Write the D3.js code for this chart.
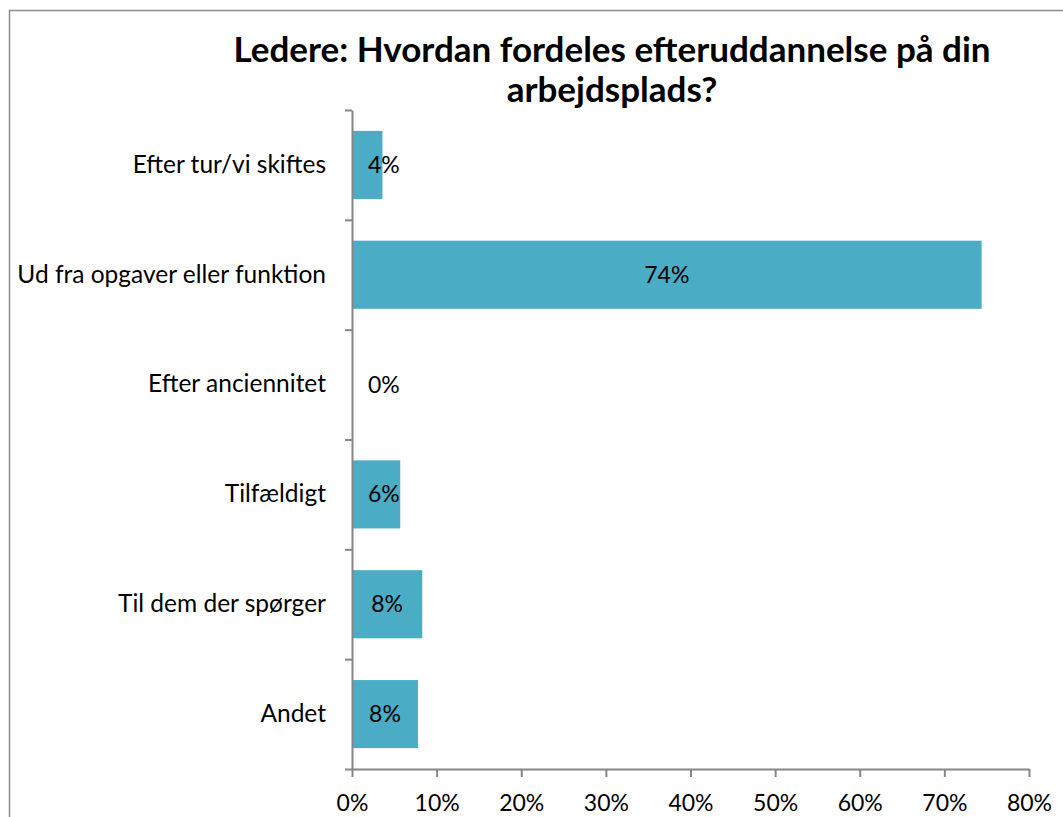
<!DOCTYPE html>
<html>
<head>
<meta charset="utf-8">
<script src="https://cdn.jsdelivr.net/npm/d3@7"></script>
<style>
    body { margin: 0; background: #ffffff; }
    text { font-family: Lato, "Open Sans", sans-serif; }
</style>
</head>
<body>
<div id="chart"></div>
<script>
// data
var titleLines = ["Ledere: Hvordan fordeles efteruddannelse på din", "arbejdsplads?"];
var categories = ["Efter tur/vi skiftes", "Ud fra opgaver eller funktion", "Efter anciennitet", "Tilfældigt ", "Til dem der spørger", "Andet"];
var values = [0.036, 0.744, 0, 0.057, 0.083, 0.078];
var xTicks = [0, 0.1, 0.2, 0.3, 0.4, 0.5, 0.6, 0.7, 0.8];

var width = 1063;
var height = 817;

var svg = d3.select("#chart").append("svg").attr("width", width).attr("height", height);

// outer chart border (runs past the right and bottom edge like the screenshot)
svg.append("rect")
    .attr("x", 9.5).attr("y", 10.5)
    .attr("width", 1300).attr("height", 900)
    .style("fill", "none")
    .style("stroke", "#8c8c8c")
    .style("stroke-width", 1.5);

// plot area
var plotLeft = 352, plotRight = 1029, plotTop = 110, plotBottom = 769;

var x_scale = d3.scaleLinear().domain([0, 0.8]).range([plotLeft, plotRight]);
var y_scale = d3.scaleBand()
    .domain(categories)
    .range([plotTop, plotBottom])
    .paddingInner(0.38)
    .paddingOuter(0.19);
// boundaries between categories for the tick marks
var y_bounds = d3.scaleLinear().domain([0, categories.length]).range([plotTop, plotBottom]);

// title
svg.append("text")
    .attr("x", 612)
    .attr("y", 62)
    .attr("text-anchor", "middle")
    .style("font-size", "35px")
    .style("font-weight", "bold")
    .selectAll("tspan")
    .data(titleLines)
    .enter()
    .append("tspan")
    .attr("x", 612)
    .attr("dy", function (d, i) { return i === 0 ? 0 : 40; })
    .text(function (d) { return d; });

// bars
svg.append("g").selectAll("rect")
    .data(values)
    .enter()
    .append("rect")
    .attr("x", x_scale(0))
    .attr("y", function (d, i) { return y_scale(categories[i]); })
    .attr("width", function (d) { return x_scale(d) - x_scale(0); })
    .attr("height", y_scale.bandwidth())
    .style("fill", "#4bacc6");

// value labels, centred in the bar but kept clear of the axis
var labels = svg.append("g").selectAll("text")
    .data(values)
    .enter()
    .append("text")
    .attr("y", function (d, i) { return y_scale(categories[i]) + y_scale.bandwidth() / 2; })
    .attr("dy", "0.35em")
    .attr("text-anchor", "middle")
    .style("font-size", "23px")
    .style("fill", "#000")
    .text(function (d) { return d3.format(".0%")(d); });
labels.attr("x", function (d) {
    var half = this.getComputedTextLength() / 2;
    return Math.max(x_scale(d / 2), x_scale(0) + half + 16);
});

// y axis: line + boundary ticks
var y_axis = d3.axisLeft(y_bounds)
    .tickValues(d3.range(categories.length + 1))
    .tickFormat("")
    .tickSizeInner(7)
    .tickSizeOuter(0);
svg.append("g")
    .attr("transform", "translate(" + plotLeft + ",0)")
    .call(y_axis);

// category labels
var ylab = d3.axisLeft(y_scale).tickSize(0).tickPadding(26);
var yl = svg.append("g")
    .attr("class", "cat")
    .attr("transform", "translate(" + plotLeft + ",0)")
    .call(ylab);
yl.select(".domain").remove();

// x axis
var x_axis = d3.axisBottom(x_scale)
    .tickValues(xTicks)
    .tickFormat(d3.format(".0%"))
    .tickSizeInner(8)
    .tickSizeOuter(0)
    .tickPadding(18);
svg.append("g")
    .attr("transform", "translate(0," + plotBottom + ")")
    .call(x_axis);

svg.selectAll(".domain, .tick line")
    .style("stroke", "#868686")
    .style("stroke-width", 2);
svg.selectAll(".tick text")
    .style("font-family", "Lato, 'Open Sans', sans-serif")
    .style("font-size", "23px")
    .style("fill", "#000");
yl.selectAll(".tick text").style("font-size", "24.5px");
</script>
</body>
</html>
